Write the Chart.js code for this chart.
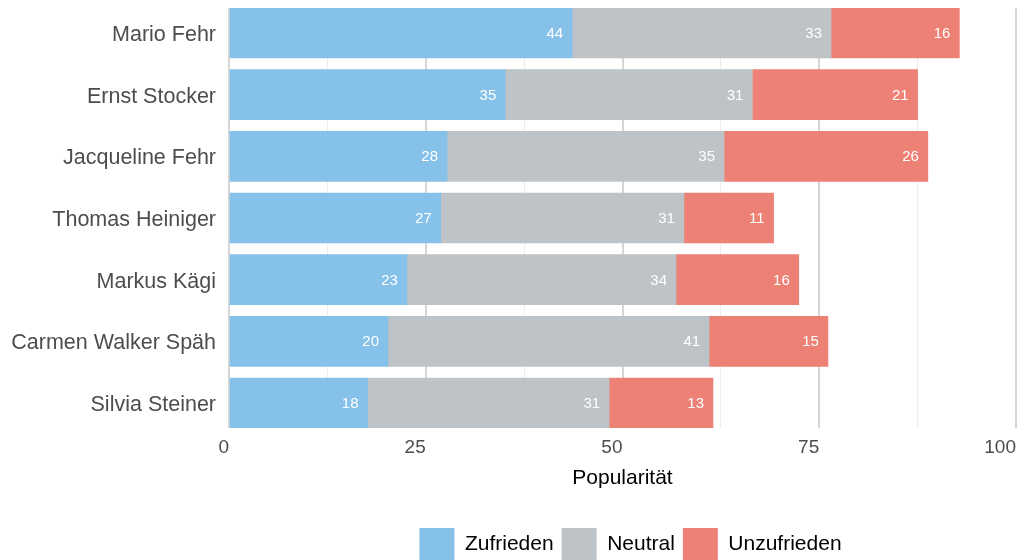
<!DOCTYPE html>
<html>
<head>
<meta charset="utf-8">
<script src="https://cdn.jsdelivr.net/npm/chart.js@4"></script>
<style>
html, body { margin: 0; padding: 0; background: #ffffff; }
#wrap { width: 1019px; height: 560px; }
</style>
</head>
<body>
<div id="wrap"><canvas id="c" width="1019" height="560"></canvas></div>
<script>
// ---- data ----
const politicians = ['Mario Fehr', 'Ernst Stocker', 'Jacqueline Fehr', 'Thomas Heiniger', 'Markus Kägi', 'Carmen Walker Späh', 'Silvia Steiner'];
const zufrieden   = [43.6, 35.1, 27.7, 26.9, 22.6, 20.2, 17.6];
const neutral     = [32.9, 31.4, 35.2, 30.9, 34.2, 40.8, 30.7];
const unzufrieden = [16.3, 21.0, 25.9, 11.4, 15.6, 15.1, 13.2];
const seriesNames = ['Zufrieden', 'Neutral', 'Unzufrieden'];
const xTickLabels = [0, 25, 50, 75, 100];
const xAxisTitle  = 'Popularität';

const colors = ['#85C1E9', '#BDC3C7', '#ED8175'];
const FONT = "'Liberation Sans', Arial, Helvetica, sans-serif";
Chart.defaults.font.family = FONT;

const toPoints = arr => arr.map((v, i) => ({ x: v, y: i }));

const valueLabels = {
  id: 'valueLabels',
  afterDatasetsDraw(chart) {
    const ctx = chart.ctx;
    ctx.save();
    ctx.font = '15px ' + FONT;
    ctx.fillStyle = '#ffffff';
    ctx.textAlign = 'right';
    ctx.textBaseline = 'middle';
    chart.data.datasets.forEach((ds, di) => {
      const meta = chart.getDatasetMeta(di);
      meta.data.forEach((bar, i) => {
        const v = ds.data[i].x;
        ctx.fillText(String(Math.round(v)), bar.x - 9, bar.y + 1);
      });
    });
    ctx.restore();
  }
};

const legendShift = {
  id: 'legendShift',
  afterLayout(chart) {
    if (chart.legend) { chart.legend.left += 8; chart.legend.right += 8; }
  }
};

new Chart(document.getElementById('c'), {
  type: 'bar',
  data: {
    datasets: [
      { label: seriesNames[0], data: toPoints(zufrieden), backgroundColor: colors[0], borderWidth: 0 },
      { label: seriesNames[1], data: toPoints(neutral), backgroundColor: colors[1], borderWidth: 0 },
      { label: seriesNames[2], data: toPoints(unzufrieden), backgroundColor: colors[2], borderWidth: 0 }
    ]
  },
  options: {
    indexAxis: 'y',
    responsive: false,
    animation: false,
    layout: { padding: { top: 8, right: 3, bottom: -10, left: 0 } },
    datasets: { bar: { barThickness: 50 } },
    scales: {
      y: {
        type: 'linear',
        reverse: true,
        stacked: true,
        offset: false,
        bounds: 'data',
        min: -0.405,
        max: 6.405,
        afterBuildTicks: s => { s.ticks = politicians.map((_, i) => ({ value: i })); },
        afterFit: s => { s.width = 229; s.paddingTop = 0; s.paddingBottom = 0; },
        grid: { display: false, drawTicks: false, offset: false },
        border: { display: false },
        ticks: {
          autoSkip: false,
          padding: 13,
          labelOffset: 2,
          color: '#4d4d4d',
          font: { size: 21.5 },
          callback: v => politicians[v] !== undefined ? politicians[v] : ''
        }
      },
      x: {
        type: 'linear',
        stacked: true,
        min: 0,
        max: 100,
        afterFit: s => { s.height = 92; s.paddingLeft = 0; s.paddingRight = 0; },
        border: { display: false },
        grid: {
          drawTicks: false,
          color: c => (c.tick && xTickLabels.includes(c.tick.value)) ? '#d6d6d6' : '#ededed',
          lineWidth: c => (c.tick && xTickLabels.includes(c.tick.value)) ? 2 : 1
        },
        ticks: {
          stepSize: 12.5,
          align: 'end',
          padding: 8,
          color: '#4d4d4d',
          font: { size: 19 },
          callback: v => xTickLabels.includes(v) ? String(v) : ''
        },
        title: {
          display: true,
          text: xAxisTitle,
          color: '#000000',
          font: { size: 21 },
          padding: { top: 0, bottom: 29 }
        }
      }
    },
    plugins: {
      legend: {
        position: 'bottom',
        fullSize: false,
        labels: {
          boxWidth: 35,
          boxHeight: 32,
          padding: 8,
          color: '#000000',
          font: { size: 21 }
        }
      },
      tooltip: { enabled: false }
    }
  },
  plugins: [valueLabels, legendShift]
});
</script>
</body>
</html>
